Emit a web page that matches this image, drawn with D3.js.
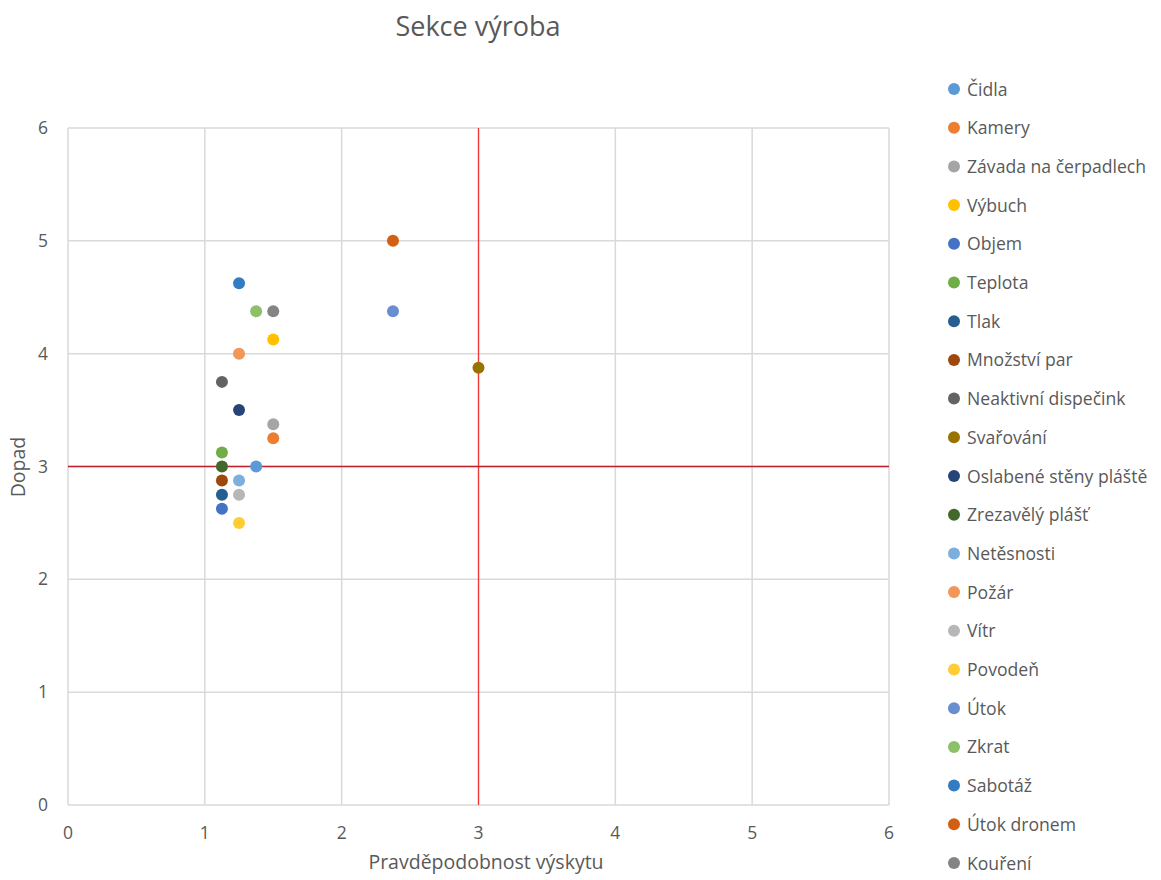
<!DOCTYPE html>
<html><head><meta charset="utf-8">
<script src="https://cdn.jsdelivr.net/npm/d3@7"></script>
<style>body{margin:0;background:#fff}svg{font-family:"Open Sans",sans-serif}</style>
</head><body><svg id="c" width="1161" height="880"></svg>
<script>
const names = ["Čidla","Kamery","Závada na čerpadlech","Výbuch","Objem","Teplota","Tlak","Množství par","Neaktivní dispečink","Svařování","Oslabené stěny pláště","Zrezavělý plášť","Netěsnosti","Požár","Vítr","Povodeň","Útok","Zkrat","Sabotáž","Útok dronem","Kouření"];
const xVals = [1.375,1.5,1.5,1.5,1.125,1.125,1.125,1.125,1.125,3,1.25,1.125,1.25,1.25,1.25,1.25,2.375,1.375,1.25,2.375,1.5];
const yVals = [3,3.25,3.375,4.125,2.625,3.125,2.75,2.875,3.75,3.875,3.5,3,2.875,4,2.75,2.5,4.375,4.375,4.625,5,4.375];
const colors = ["#5B9BD5","#ED7D31","#A5A5A5","#FFC000","#4472C4","#70AD47","#255E91","#9E480E","#636363","#997300","#264478","#43682B","#7CAFDD","#F1975A","#B7B7B7","#FFCD33","#698ED0","#8CC168","#327DC2","#D26012","#848484"];
const ticks = [0,1,2,3,4,5,6];
const threshX = 3, threshY = 3;

const svg = d3.select("#c");
const L=68,R=889,T=128,B=805;
const x = d3.scaleLinear().domain([0,6]).range([L,R]);
const y = d3.scaleLinear().domain([0,6]).range([B,T]);
const txt = "#595959";

// gridlines
svg.append("g").selectAll("line.v").data(ticks).join("line")
  .attr("x1",d=>x(d)).attr("x2",d=>x(d)).attr("y1",T).attr("y2",B)
  .attr("stroke","#d9d9d9").attr("stroke-width",1.5);
svg.append("g").selectAll("line.h").data(ticks).join("line")
  .attr("x1",L).attr("x2",R).attr("y1",d=>y(d)).attr("y2",d=>y(d))
  .attr("stroke","#d9d9d9").attr("stroke-width",1.5);

// tick labels
svg.append("g").selectAll("text").data(ticks).join("text")
  .attr("x",d=>x(d)).attr("y",B+34).attr("text-anchor","middle")
  .attr("fill",txt).attr("font-size",17.5).text(d=>d);
svg.append("g").selectAll("text").data(ticks).join("text")
  .attr("x",L-20).attr("y",d=>y(d)+6).attr("text-anchor","end")
  .attr("fill",txt).attr("font-size",17.5).text(d=>d);

// threshold lines
svg.append("line").attr("x1",x(threshX)).attr("x2",x(threshX)).attr("y1",T).attr("y2",B)
  .attr("stroke","#f03a3a").attr("stroke-width",1.3);
svg.append("line").attr("x1",L).attr("x2",R).attr("y1",y(threshY)).attr("y2",y(threshY))
  .attr("stroke","#c0202a").attr("stroke-width",1.3);

// points
svg.append("g").selectAll("circle").data(names.map((n,i)=>i)).join("circle")
  .attr("cx",i=>x(xVals[i])).attr("cy",i=>y(yVals[i])).attr("r",6)
  .attr("fill",i=>colors[i]);

// titles
svg.append("text").attr("x",478).attr("y",36).attr("text-anchor","middle")
  .attr("fill",txt).attr("font-size",27).text("Sekce výroba");
svg.append("text").attr("x",486).attr("y",869).attr("text-anchor","middle")
  .attr("fill",txt).attr("font-size",19.5).text("Pravděpodobnost výskytu");
svg.append("text").attr("transform","translate(25,467) rotate(-90)").attr("text-anchor","middle")
  .attr("fill",txt).attr("font-size",19.5).text("Dopad");

// legend
const lg = svg.append("g").selectAll("g").data(names).join("g")
  .attr("transform",(d,i)=>`translate(954,${89+i*38.7})`);
lg.append("circle").attr("r",6).attr("fill",(d,i)=>colors[i]);
lg.append("text").attr("x",13).attr("y",6.5).attr("fill",txt).attr("font-size",17.6).text(d=>d);
</script></body></html>
